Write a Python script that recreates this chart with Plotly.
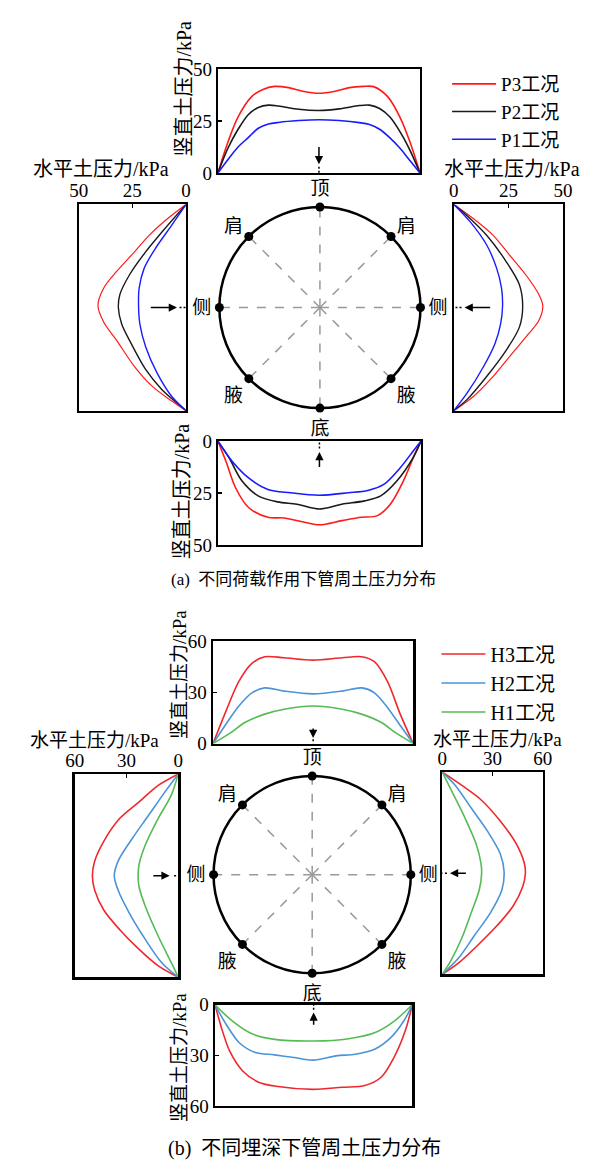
import plotly.graph_objects as go

W, H = 606, 1168
FONT = "Liberation Serif, Noto Sans CJK SC, serif"

# ---------------- (a) load cases ----------------
A_TOP_P3_U = [0, 0.05, 0.1, 0.167, 0.22, 0.28, 0.35, 0.42, 0.5, 0.58, 0.65, 0.72, 0.77, 0.84, 0.9, 0.95, 1.0]
A_TOP_P3 = [0, 15, 27, 36.7, 40, 41.6, 41, 39.3, 38.3, 39.3, 41, 41.6, 41.5, 36.7, 27, 15, 0]
A_TOP_P2_U = [0, 0.05, 0.1, 0.15, 0.2, 0.25, 0.3, 0.4, 0.5, 0.6, 0.7, 0.75, 0.8, 0.85, 0.9, 0.95, 1]
A_TOP_P2 = [0, 12, 21, 28, 31.5, 32.6, 32.2, 30.6, 30, 30.8, 32.4, 32.6, 31, 27, 20, 11, 0]
A_TOP_P1_U = [0, 0.05, 0.1, 0.15, 0.2, 0.25, 0.3, 0.4, 0.5, 0.6, 0.7, 0.75, 0.8, 0.85, 0.9, 0.95, 1]
A_TOP_P1 = [0, 6.5, 12.5, 17, 21.5, 23.5, 24.3, 25.2, 25.6, 25.2, 24.2, 23.3, 21, 17, 12, 6, 0]

A_LEFT_P3_V = [0, 0.079, 0.151, 0.23, 0.325, 0.405, 0.49, 0.571, 0.659, 0.786, 0.881, 0.952, 1.0]
A_LEFT_P3 = [0, 9.8, 17.3, 24, 32.3, 38.3, 41, 38.3, 32.3, 24, 15.8, 6.8, 0]
A_LEFT_P2_V = [0, 0.135, 0.23, 0.341, 0.437, 0.5, 0.579, 0.675, 0.8, 0.897, 0.968, 1]
A_LEFT_P2 = [0, 11.3, 18.8, 26.3, 30.8, 31.5, 30, 25.5, 18.8, 11.3, 3.6, 0]
A_LEFT_P1_V = [0, 0.103, 0.214, 0.31, 0.405, 0.49, 0.579, 0.69, 0.817, 0.929, 1]
A_LEFT_P1 = [0, 6.8, 14.3, 19.5, 21.8, 22.1, 21.5, 18.8, 13.5, 6.8, 0]

A_RIGHT_P3_V = [0, 0.071, 0.151, 0.246, 0.341, 0.437, 0.492, 0.563, 0.643, 0.738, 0.833, 0.929, 1]
A_RIGHT_P3 = [0, 9.2, 18.1, 25.5, 32.9, 38.9, 40.7, 38.9, 32.9, 25.5, 18.1, 9.2, 0]
A_RIGHT_P2_V = [0, 0.056, 0.151, 0.278, 0.389, 0.492, 0.595, 0.706, 0.833, 0.944, 1]
A_RIGHT_P2 = [0, 6.2, 15.1, 24, 30, 31.5, 30, 24, 15.1, 6.2, 0]
A_RIGHT_P1_V = [0, 0.087, 0.198, 0.31, 0.405, 0.49, 0.579, 0.675, 0.786, 0.913, 1]
A_RIGHT_P1 = [0, 7.7, 15.1, 19.6, 21.8, 22.3, 21.4, 18.8, 13.6, 6.2, 0]

A_BOT_P1_U = [0, 0.071, 0.151, 0.246, 0.357, 0.5, 0.643, 0.738, 0.817, 0.897, 0.96, 1]
A_BOT_P1 = [0, 9.8, 17.7, 23.2, 24.8, 26, 24.8, 23.7, 20.8, 12.9, 5, 0]
A_BOT_P2_U = [0, 0.056, 0.119, 0.198, 0.294, 0.389, 0.5, 0.611, 0.722, 0.802, 0.881, 0.96, 1]
A_BOT_P2 = [0, 8.2, 19.2, 26.3, 29.2, 30.3, 32.6, 30.3, 28.7, 26.3, 19.2, 8.2, 0]
A_BOT_P3_U = [0, 0.04, 0.087, 0.151, 0.246, 0.325, 0.405, 0.5, 0.611, 0.706, 0.786, 0.849, 0.913, 0.968, 1]
A_BOT_P3 = [0, 9.8, 22.4, 31.9, 36.6, 36.9, 38.5, 40.2, 38.2, 36.6, 35.8, 30.3, 19.2, 6.6, 0]

# ---------------- (b) burial depth cases ----------------
B_TOP_H3_U = [0, 0.065, 0.129, 0.194, 0.258, 0.355, 0.5, 0.645, 0.742, 0.806, 0.871, 0.935, 1]
B_TOP_H3 = [0, 19.2, 36.5, 47.1, 51, 50.4, 49, 50.4, 51, 48.1, 36.5, 17.3, 0]
B_TOP_H2_U = [0, 0.065, 0.129, 0.194, 0.258, 0.355, 0.5, 0.645, 0.742, 0.806, 0.871, 0.935, 1]
B_TOP_H2 = [0, 11.5, 22.1, 29.8, 32.7, 30.8, 29.2, 30.8, 32.7, 29.8, 21.2, 10.6, 0]
B_TOP_H1_U = [0, 0.081, 0.161, 0.258, 0.355, 0.5, 0.645, 0.742, 0.839, 0.919, 1]
B_TOP_H1 = [0, 5.8, 12.5, 17.3, 20.2, 22.1, 20.2, 17.3, 12.5, 5.8, 0]

B_LEFT_H3_V = [0, 0.056, 0.137, 0.218, 0.331, 0.427, 0.5, 0.573, 0.669, 0.766, 0.863, 0.944, 1]
B_LEFT_H3 = [0, 11.6, 22.7, 33.9, 43.2, 48.4, 49.8, 48.4, 43.2, 33.9, 22.7, 11.6, 0]
B_LEFT_H2_V = [0, 0.089, 0.202, 0.315, 0.427, 0.5, 0.573, 0.685, 0.815, 0.927, 1]
B_LEFT_H2 = [0, 7.8, 17.1, 26.5, 34.8, 37.1, 34.8, 28.3, 19, 9.7, 0]
B_LEFT_H1_V = [0, 0.105, 0.218, 0.347, 0.444, 0.5, 0.556, 0.653, 0.798, 0.927, 1]
B_LEFT_H1 = [0, 4.1, 11.6, 19, 22.7, 23.3, 22.7, 19, 11.6, 4.1, 0]

B_RIGHT_H3_V = [0, 0.065, 0.137, 0.242, 0.355, 0.452, 0.5, 0.565, 0.662, 0.759, 0.856, 0.945, 1]
B_RIGHT_H3 = [0, 11.5, 23.1, 34.6, 44.2, 49, 49.6, 48.1, 42.3, 32.7, 21.2, 9.6, 0]
B_RIGHT_H2_V = [0, 0.065, 0.178, 0.291, 0.404, 0.493, 0.582, 0.695, 0.808, 0.921, 1]
B_RIGHT_H2 = [0, 7.7, 17.3, 26.9, 34.6, 36.9, 35.6, 28.8, 19.2, 9.6, 0]
B_RIGHT_H1_V = [0, 0.097, 0.226, 0.355, 0.452, 0.5, 0.582, 0.695, 0.824, 0.937, 1]
B_RIGHT_H1 = [0, 5.8, 13.5, 20.2, 23.1, 23.5, 22.1, 17.3, 11.5, 4.8, 0]

B_BOT_H1_U = [0, 0.09, 0.188, 0.302, 0.498, 0.678, 0.809, 0.907, 1]
B_BOT_H1 = [0, 9.8, 17.2, 20.5, 21.5, 20.1, 16.6, 9.8, 0]
B_BOT_H2_U = [0, 0.057, 0.123, 0.204, 0.302, 0.4, 0.498, 0.614, 0.712, 0.809, 0.891, 0.956, 1]
B_BOT_H2 = [0, 11.7, 22.5, 28.3, 29.7, 31.3, 32.8, 30.3, 29.3, 26.4, 19.5, 9.8, 0]
B_BOT_H3_U = [0, 0.033, 0.074, 0.139, 0.221, 0.319, 0.498, 0.645, 0.76, 0.842, 0.907, 0.964, 1]
B_BOT_H3 = [0, 13.7, 27.4, 39.1, 45.9, 48.5, 50.2, 48.9, 47.9, 43, 31.3, 15.6, 0]

A_TICKS = [0, 25, 50]
B_TICKS = [0, 30, 60]
POS_ANGLES = [90, 45, 0, 315, 270, 225, 180, 135]
POS_NAMES = ["顶", "肩", "侧", "腋", "底", "腋", "侧", "肩"]

A_COLORS = {"P3": "#ff1a1a", "P2": "#1a1a1a", "P1": "#1a1aff"}
B_COLORS = {"H3": "#f0282d", "H2": "#4a94d8", "H1": "#55bb55"}

fig = go.Figure()


def xdom(a, b):
    return [a / W, b / W]


def ydom(t, b):
    return [1 - b / H, 1 - t / H]


def base_axis(dom, fs, **kw):
    d = dict(domain=dom, showline=True, mirror=True, linecolor="black", linewidth=2,
             zeroline=False, showgrid=False, ticks="inside", ticklen=4, tickwidth=1.5,
             tickcolor="black", tickfont=dict(family=FONT, size=fs, color="black"))
    d.update(kw)
    return d


def add(x, y, color, ax, name=None, legend=None, width=1.6):
    fig.add_trace(go.Scatter(
        x=x, y=y, mode="lines", line=dict(color=color, width=width, shape="spline", smoothing=0.9),
        xaxis="x" + ("" if ax == 1 else str(ax)), yaxis="y" + ("" if ax == 1 else str(ax)),
        name=name, showlegend=legend is not None, legend=legend if legend else "legend",
        legendgroup=name if legend else None, hoverinfo="skip"))


# (a) top (axis 1), legend traces
add(A_TOP_P3_U, A_TOP_P3, A_COLORS["P3"], 1, "P3工况", "legend")
add(A_TOP_P2_U, A_TOP_P2, A_COLORS["P2"], 1, "P2工况", "legend")
add(A_TOP_P1_U, A_TOP_P1, A_COLORS["P1"], 1, "P1工况", "legend")
# (a) left (2)
add(A_LEFT_P3, A_LEFT_P3_V, A_COLORS["P3"], 2, width=1.2)
add(A_LEFT_P2, A_LEFT_P2_V, A_COLORS["P2"], 2, width=1.4)
add(A_LEFT_P1, A_LEFT_P1_V, A_COLORS["P1"], 2, width=1.4)
# (a) right (3)
add(A_RIGHT_P3, A_RIGHT_P3_V, A_COLORS["P3"], 3, width=1.2)
add(A_RIGHT_P2, A_RIGHT_P2_V, A_COLORS["P2"], 3, width=1.4)
add(A_RIGHT_P1, A_RIGHT_P1_V, A_COLORS["P1"], 3, width=1.4)
# (a) bottom (4)
add(A_BOT_P3_U, A_BOT_P3, A_COLORS["P3"], 4)
add(A_BOT_P2_U, A_BOT_P2, A_COLORS["P2"], 4)
add(A_BOT_P1_U, A_BOT_P1, A_COLORS["P1"], 4)

# (b) top (5)
add(B_TOP_H3_U, B_TOP_H3, B_COLORS["H3"], 5, "H3工况", "legend2")
add(B_TOP_H2_U, B_TOP_H2, B_COLORS["H2"], 5, "H2工况", "legend2")
add(B_TOP_H1_U, B_TOP_H1, B_COLORS["H1"], 5, "H1工况", "legend2")
# (b) left (6)
add(B_LEFT_H3, B_LEFT_H3_V, B_COLORS["H3"], 6)
add(B_LEFT_H2, B_LEFT_H2_V, B_COLORS["H2"], 6)
add(B_LEFT_H1, B_LEFT_H1_V, B_COLORS["H1"], 6)
# (b) right (7)
add(B_RIGHT_H3, B_RIGHT_H3_V, B_COLORS["H3"], 7)
add(B_RIGHT_H2, B_RIGHT_H2_V, B_COLORS["H2"], 7)
add(B_RIGHT_H1, B_RIGHT_H1_V, B_COLORS["H1"], 7)
# (b) bottom (8)
add(B_BOT_H3_U, B_BOT_H3, B_COLORS["H3"], 8)
add(B_BOT_H2_U, B_BOT_H2, B_COLORS["H2"], 8)
add(B_BOT_H1_U, B_BOT_H1, B_COLORS["H1"], 8)

FA, FB = 19, 19
noticks = dict(showticklabels=False, ticks="")

layout = dict(
    # (a)
    xaxis=base_axis(xdom(215, 424), FA, range=[0, 1], anchor="y", **noticks),
    yaxis=base_axis(ydom(60, 166), FA, range=[0, 50], tickvals=A_TICKS, anchor="x"),
    xaxis2=base_axis(xdom(71, 182), FA, range=[50, 0], side="top", tickvals=A_TICKS, anchor="y2",
                     ticklabelstandoff=-2),
    yaxis2=base_axis(ydom(198, 408), FA, range=[1, 0], anchor="x2", **noticks),
    xaxis3=base_axis(xdom(459, 572), FA, range=[0, 50], side="top", tickvals=A_TICKS, anchor="y3",
                     ticklabelstandoff=-2),
    yaxis3=base_axis(ydom(198, 408), FA, range=[1, 0], anchor="x3", **noticks),
    xaxis4=base_axis(xdom(215, 425), FA, range=[0, 1], anchor="y4", **noticks),
    yaxis4=base_axis(ydom(439, 545), FA, range=[50, 0], tickvals=A_TICKS, anchor="x4"),
    # (b)
    xaxis5=base_axis(xdom(210, 417), FB, range=[0, 1], anchor="y5", linewidth=2.5, **noticks),
    yaxis5=base_axis(ydom(643, 747), FB, range=[0, 60], tickvals=B_TICKS, anchor="x5", linewidth=2.5),
    xaxis6=base_axis(xdom(67, 174), FB, range=[60, 0], side="top", tickvals=B_TICKS, anchor="y6",
                     linewidth=2.5, ticklabelstandoff=-3),
    yaxis6=base_axis(ydom(778, 985), FB, range=[1, 0], anchor="x6", linewidth=2.5, **noticks),
    xaxis7=base_axis(xdom(447, 551), FB, range=[0, 60], side="top", tickvals=B_TICKS, anchor="y7",
                     linewidth=2.5, ticklabelstandoff=-3),
    yaxis7=base_axis(ydom(776, 982), FB, range=[1, 0], anchor="x7", linewidth=2.5, **noticks),
    xaxis8=base_axis(xdom(212, 416), FB, range=[0, 1], anchor="y8", linewidth=2.5, **noticks),
    yaxis8=base_axis(ydom(1013, 1116), FB, range=[60, 0], tickvals=B_TICKS, anchor="x8", linewidth=2.5),
)


def polar_layout(cx, cy, r, fs):
    return dict(
        domain=dict(x=xdom(cx - r, cx + r), y=ydom(cy - r, cy + r)),
        bgcolor="rgba(0,0,0,0)",
        radialaxis=dict(visible=False, range=[0, 1], showgrid=False),
        angularaxis=dict(
            tickmode="array", tickvals=POS_ANGLES, ticktext=POS_NAMES,
            direction="counterclockwise", rotation=0,
            showline=True, linecolor="black", linewidth=2.5,
            showgrid=True, gridcolor="#999999", gridwidth=1.5, griddash="dash",
            ticks="outside", ticklen=3, tickcolor="rgba(0,0,0,0)",
            tickfont=dict(family=FONT, size=fs, color="black")),
    )


layout["polar"] = polar_layout(320.5, 303, 104, FA)
layout["polar2"] = polar_layout(312.5, 880.5, 102, FB)

for sp in ["polar", "polar2"]:
    fig.add_trace(go.Scatterpolar(r=[1] * len(POS_ANGLES), theta=POS_ANGLES, mode="markers",
                                  marker=dict(color="black", size=9), subplot=sp,
                                  showlegend=False, cliponaxis=False, hoverinfo="skip"))

annotations = []
shapes = []


def arrow(xr, yr, hx, hy, tx, ty):
    annotations.append(dict(x=hx, y=hy, ax=tx, ay=ty, xref=xr, yref=yr, axref=xr, ayref=yr,
                            showarrow=True, arrowhead=2, arrowsize=1.1, arrowwidth=1.5,
                            arrowcolor="black", text=""))


def stub(xr, yr, x0, y0, x1, y1):
    shapes.append(dict(type="line", xref=xr, yref=yr, x0=x0, y0=y0, x1=x1, y1=y1,
                       line=dict(color="black", width=1.5, dash="2px,2px")))


# (a) arrows
arrow("x", "y", 0.5, 4.2, 0.5, 13.2); stub("x", "y", 0.5, 3.0, 0.5, 0)
arrow("x2", "y2", 4.2, 0.5, 17.1, 0.5); stub("x2", "y2", 3.0, 0.5, 0, 0.5)
arrow("x3", "y3", 4.9, 0.5, 17.3, 0.5); stub("x3", "y3", 3.5, 0.5, 0, 0.5)
arrow("x4", "y4", 0.5, 5.2, 0.5, 13.1); stub("x4", "y4", 0.5, 3.5, 0.5, 0)
# (b) arrows
arrow("x5", "y5", 0.5, 3.2, 0.5, 9.8); stub("x5", "y5", 0.5, 2.5, 0.5, 0)
arrow("x6", "y6", 5.0, 0.5, 15.3, 0.5); stub("x6", "y6", 2.4, 0.5, 0, 0.5)
arrow("x7", "y7", 4.6, 0.5, 15.0, 0.5); stub("x7", "y7", 2.8, 0.5, 0, 0.5)
arrow("x8", "y8", 0.5, 4.5, 0.5, 12.8); stub("x8", "y8", 0.5, 3.0, 0.5, 0)


def text(t, px, py, size, angle=0):
    annotations.append(dict(text=t, x=px / W, y=1 - py / H, xref="paper", yref="paper",
                            showarrow=False, textangle=angle, xanchor="center", yanchor="middle",
                            font=dict(family=FONT, size=size, color="black")))


VT = "竖直土压力/kPa"
HT = "水平土压力/kPa"
text(VT, 180, 80, 20, -90)
text(VT, 178, 490, 20, -90)
text(HT, 94, 162, 20)
text(HT, 519, 162, 20)
text("(a)  不同荷载作用下管周土压力分布", 303, 580, 17)

text(VT, 176, 677, 19, -90)
text(VT, 176, 1067, 19, -90)
text(HT, 87, 744, 19)
text(HT, 504, 743, 19)
text("(b)  不同埋深下管周土压力分布", 305, 1159, 20)

layout.update(
    width=W, height=H, margin=dict(l=0, r=0, t=0, b=0),
    paper_bgcolor="white", plot_bgcolor="white",
    font=dict(family=FONT, color="black"),
    annotations=annotations, shapes=shapes,
    legend=dict(x=452 / W, y=1 - 56 / H, xanchor="left", yanchor="top", itemwidth=44,
                bgcolor="rgba(0,0,0,0)", tracegroupgap=0, traceorder="grouped",
                font=dict(family=FONT, size=19, color="black")),
    legend2=dict(x=441 / W, y=1 - 636 / H, xanchor="left", yanchor="top", itemwidth=44,
                 bgcolor="rgba(0,0,0,0)", tracegroupgap=0, traceorder="grouped",
                 font=dict(family=FONT, size=20, color="black")),
)
fig.update_layout(**layout)

fig.write_html("out.html", config={"displayModeBar": False, "staticPlot": True},
               post_script="document.body.style.margin='0';document.body.style.overflow='hidden';")
